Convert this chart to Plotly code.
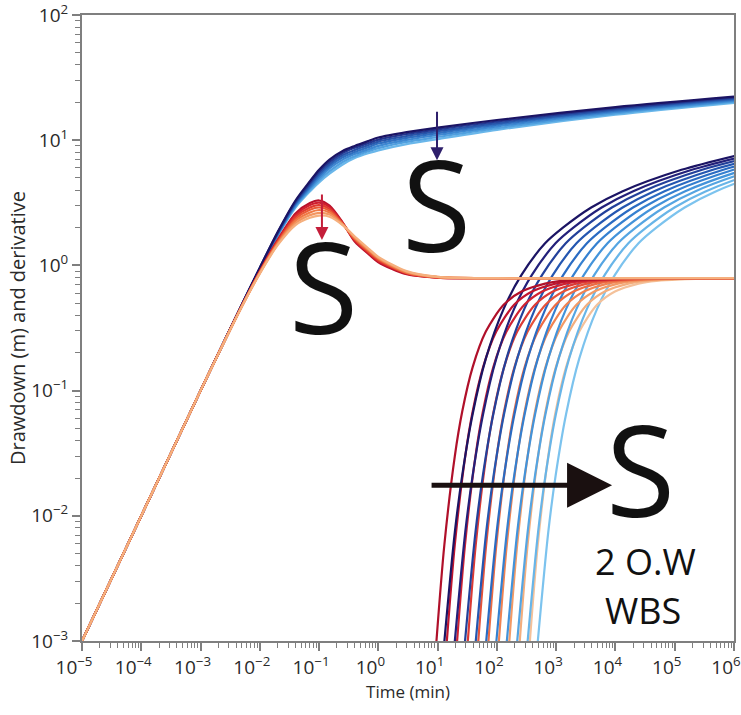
import plotly.graph_objects as go

# ---------------- Pumping well: shared time grid (min) ----------------
t_pw = [1e-5, 1e-3, 5e-3, 1e-2, 2e-2, 4e-2, 0.07, 0.1, 0.15, 0.25, 0.4, 0.7,
        1, 3, 10, 100, 1e4, 1e6]

# Pumping-well drawdown (m), one list per storativity, small S -> large S
pw_draw_1 = [0.001, 0.1, 0.49, 0.96, 1.85, 3.3, 4.7, 5.8, 7.0, 8.2, 9.0, 9.9, 10.5, 11.6, 12.6, 14.5, 18.4, 22.3]
pw_draw_2 = [0.001, 0.1, 0.49, 0.955, 1.83, 3.23, 4.55, 5.6, 6.7, 7.9, 8.7, 9.55, 10.1, 11.2, 12.2, 14.1, 18.0, 21.9]
pw_draw_3 = [0.001, 0.1, 0.485, 0.95, 1.8, 3.16, 4.4, 5.4, 6.45, 7.6, 8.35, 9.2, 9.75, 10.8, 11.8, 13.7, 17.6, 21.5]
pw_draw_4 = [0.001, 0.1, 0.485, 0.945, 1.78, 3.1, 4.27, 5.2, 6.2, 7.3, 8.05, 8.85, 9.4, 10.45, 11.4, 13.3, 17.2, 21.1]
pw_draw_5 = [0.001, 0.1, 0.483, 0.94, 1.76, 3.03, 4.15, 5.0, 5.95, 7.0, 7.75, 8.5, 9.0, 10.05, 11.0, 12.9, 16.8, 20.7]
pw_draw_6 = [0.001, 0.1, 0.48, 0.935, 1.74, 2.96, 4.02, 4.8, 5.65, 6.7, 7.45, 8.2, 8.65, 9.7, 10.6, 12.5, 16.4, 20.3]
pw_draw_7 = [0.001, 0.1, 0.48, 0.93, 1.72, 2.9, 3.9, 4.6, 5.4, 6.4, 7.2, 7.9, 8.3, 9.3, 10.2, 12.1, 16.0, 19.9]

# Pumping-well log-derivative (m)
pw_deriv_1 = [0.001, 0.1, 0.48, 0.9, 1.6, 2.6, 3.15, 3.3, 3.0, 2.2, 1.55, 1.22, 1.06, 0.85, 0.8, 0.79, 0.79, 0.79]
pw_deriv_2 = [0.001, 0.1, 0.478, 0.893, 1.575, 2.52, 3.03, 3.17, 2.92, 2.18, 1.58, 1.24, 1.08, 0.86, 0.8, 0.79, 0.79, 0.79]
pw_deriv_3 = [0.001, 0.1, 0.477, 0.887, 1.55, 2.44, 2.9, 3.03, 2.83, 2.16, 1.6, 1.26, 1.10, 0.87, 0.8, 0.79, 0.79, 0.79]
pw_deriv_4 = [0.001, 0.1, 0.475, 0.88, 1.525, 2.35, 2.78, 2.9, 2.74, 2.14, 1.63, 1.28, 1.12, 0.87, 0.805, 0.79, 0.79, 0.79]
pw_deriv_5 = [0.001, 0.1, 0.473, 0.873, 1.5, 2.27, 2.65, 2.77, 2.65, 2.13, 1.65, 1.31, 1.14, 0.88, 0.805, 0.79, 0.79, 0.79]
pw_deriv_6 = [0.001, 0.1, 0.472, 0.866, 1.475, 2.18, 2.52, 2.63, 2.55, 2.11, 1.68, 1.33, 1.15, 0.89, 0.81, 0.79, 0.79, 0.79]
pw_deriv_7 = [0.001, 0.1, 0.47, 0.86, 1.45, 2.1, 2.4, 2.5, 2.45, 2.1, 1.7, 1.35, 1.17, 0.9, 0.81, 0.79, 0.79, 0.79]

# ---------------- Observation wells ----------------
# Drawdown levels (m) and the times (min) at which each curve reaches them
ow_draw_vals = [0.001, 0.0074, 0.021, 0.065, 0.18, 0.45, 0.84, 1.5, 2.0, 2.9, 3.9, 5.8, 7.7]
ow_draw_t_1 = [13, 19.5, 26, 39, 65, 130, 260, 650, 1300, 3900, 13000, 130000, 1300000]
ow_draw_t_2 = [19.5, 29.25, 39, 58.5, 97.5, 195, 390, 975, 1950, 5850, 19500, 195000, 1950000]
ow_draw_t_3 = [29, 43.5, 58, 87, 145, 290, 580, 1450, 2900, 8700, 29000, 290000, 2900000]
ow_draw_t_4 = [44, 66, 88, 132, 220, 440, 880, 2200, 4400, 13200, 44000, 440000, 4400000]
ow_draw_t_5 = [66, 99, 132, 198, 330, 660, 1320, 3300, 6600, 19800, 66000, 660000, 6600000]
ow_draw_t_6 = [98, 147, 196, 294, 490, 980, 1960, 4900, 9800, 29400, 98000, 980000, 9800000]
ow_draw_t_7 = [147, 220.5, 294, 441, 735, 1470, 2940, 7350, 14700, 44100, 147000, 1470000, 14700000]
ow_draw_t_8 = [220, 330, 440, 660, 1100, 2200, 4400, 11000, 22000, 66000, 220000, 2200000, 22000000]
ow_draw_t_9 = [330, 495, 660, 990, 1650, 3300, 6600, 16500, 33000, 99000, 330000, 3300000, 33000000]
ow_draw_t_10 = [490, 735, 980, 1470, 2450, 4900, 9800, 24500, 49000, 147000, 490000, 4900000, 49000000]

# Derivative levels (m) and times (min)
ow_deriv_vals = [0.001, 0.0059, 0.030, 0.068, 0.154, 0.296, 0.484, 0.618, 0.716, 0.752, 0.786, 0.79]
ow_deriv_t_1 = [9.55, 13, 19.5, 26, 39, 65, 130, 260, 650, 1300, 13000, 1300000]
ow_deriv_t_2 = [14.3, 19.5, 29.25, 39, 58.5, 97.5, 195, 390, 975, 1950, 19500, 1950000]
ow_deriv_t_3 = [21.3, 29, 43.5, 58, 87, 145, 290, 580, 1450, 2900, 29000, 2900000]
ow_deriv_t_4 = [32.3, 44, 66, 88, 132, 220, 440, 880, 2200, 4400, 44000, 4400000]
ow_deriv_t_5 = [48.5, 66, 99, 132, 198, 330, 660, 1320, 3300, 6600, 66000, 6600000]
ow_deriv_t_6 = [72, 98, 147, 196, 294, 490, 980, 1960, 4900, 9800, 98000, 9800000]
ow_deriv_t_7 = [108, 147, 220.5, 294, 441, 735, 1470, 2940, 7350, 14700, 147000, 14700000]
ow_deriv_t_8 = [162, 220, 330, 440, 660, 1100, 2200, 4400, 11000, 22000, 220000, 22000000]
ow_deriv_t_9 = [243, 330, 495, 660, 990, 1650, 3300, 6600, 16500, 33000, 330000, 33000000]
ow_deriv_t_10 = [360, 490, 735, 980, 1470, 2450, 4900, 9800, 24500, 49000, 490000, 49000000]

# Axis ticks
x_tick_exp = [-5, -4, -3, -2, -1, 0, 1, 2, 3, 4, 5, 6]
y_tick_exp = [-3, -2, -1, 0, 1, 2]

# ---------------- Styling ----------------
pw_blue = ["#1b1464", "#22368f", "#2755aa", "#2f6fc0", "#3d88d2", "#50a0df", "#6ab7ea"]
pw_red = ["#b8102a", "#cf1f2f", "#e03a30", "#ea5a36", "#f07a45", "#f39660", "#f5b07e"]
ow_blue = ["#1b1464", "#23207a", "#23409a", "#2456b0", "#2a6bc2", "#3580d0", "#4393da",
           "#55a5e2", "#68b5e8", "#7cc3ee"]
ow_red = ["#b0102a", "#c0152e", "#cf2232", "#db3a35", "#e5533a", "#ec6c44", "#f08352",
          "#f29a66", "#f3ae7e", "#f4c19a"]

pw_draw = [pw_draw_1, pw_draw_2, pw_draw_3, pw_draw_4, pw_draw_5, pw_draw_6, pw_draw_7]
pw_deriv = [pw_deriv_1, pw_deriv_2, pw_deriv_3, pw_deriv_4, pw_deriv_5, pw_deriv_6, pw_deriv_7]
ow_draw_t = [ow_draw_t_1, ow_draw_t_2, ow_draw_t_3, ow_draw_t_4, ow_draw_t_5,
             ow_draw_t_6, ow_draw_t_7, ow_draw_t_8, ow_draw_t_9, ow_draw_t_10]
ow_deriv_t = [ow_deriv_t_1, ow_deriv_t_2, ow_deriv_t_3, ow_deriv_t_4, ow_deriv_t_5,
              ow_deriv_t_6, ow_deriv_t_7, ow_deriv_t_8, ow_deriv_t_9, ow_deriv_t_10]

fig = go.Figure()

# observation wells: drawdown and derivative pairs, light to dark
for i in reversed(range(len(ow_draw_t))):
    fig.add_trace(go.Scatter(x=ow_draw_t[i], y=ow_draw_vals, mode="lines",
                             line=dict(color=ow_blue[i], width=2.2, shape="spline", smoothing=0.8),
                             hoverinfo="skip", showlegend=False))
    fig.add_trace(go.Scatter(x=ow_deriv_t[i], y=ow_deriv_vals, mode="lines",
                             line=dict(color=ow_red[i], width=2.2, shape="spline", smoothing=0.8),
                             hoverinfo="skip", showlegend=False))

# pumping well drawdown
for i in reversed(range(len(pw_draw))):
    fig.add_trace(go.Scatter(x=t_pw, y=pw_draw[i], mode="lines",
                             line=dict(color=pw_blue[i], width=2.2, shape="spline", smoothing=0.8),
                             hoverinfo="skip", showlegend=False))

# pumping well derivative
for i in range(len(pw_deriv)):
    fig.add_trace(go.Scatter(x=t_pw, y=pw_deriv[i], mode="lines",
                             line=dict(color=pw_red[i], width=2.2, shape="spline", smoothing=0.8),
                             hoverinfo="skip", showlegend=False))

def sup_label(e):
    s = str(e).replace("-", "\u2212")
    return "10<sup>" + s + "</sup>"

minor_x = [m * 10.0 ** e for e in range(-5, 6) for m in range(2, 10)]
minor_y = [m * 10.0 ** e for e in range(-3, 2) for m in range(2, 10)]

axis_common = dict(
    type="log", showline=True, linecolor="#7f7f7f", linewidth=2, mirror=True,
    showgrid=False, zeroline=False, ticks="outside", ticklen=8, tickwidth=1.5,
    tickcolor="#7f7f7f", tickfont=dict(family="Open Sans", size=19, color="#2a2a2a"),
    ticklabeloverflow="allow", automargin=False,
)

fig.update_xaxes(
    **axis_common, range=[-5, 6], ticklabelshift=-8,
    tickvals=[10.0 ** e for e in x_tick_exp], ticktext=[sup_label(e) for e in x_tick_exp],
    minor=dict(tickvals=minor_x, ticks="outside", ticklen=5, tickcolor="#7f7f7f", tickwidth=1),
    title=dict(text="Time (min)", font=dict(family="Open Sans", size=17, color="#2a2a2a"), standoff=4),
)
fig.update_yaxes(
    **axis_common, range=[-3, 2],
    tickvals=[10.0 ** e for e in y_tick_exp], ticktext=[sup_label(e) for e in y_tick_exp],
    minor=dict(tickvals=minor_y, ticks="outside", ticklen=5, tickcolor="#7f7f7f", tickwidth=1),
    title=dict(text="Drawdown (m) and derivative", font=dict(family="Open Sans", size=20, color="#2a2a2a"), standoff=0),
)

big_s = dict(family="Open Sans", size=126, color="#111111")
annotations = [
    dict(x=0.543, y=0.699, text="S", font=big_s, height=100),
    dict(x=0.370, y=0.568, text="S", font=big_s, height=100),
    dict(x=0.857, y=0.276, text="S", font=big_s, height=100),
    dict(x=0.8635, y=0.127, text="2 O.W", font=dict(family="Open Sans", size=36, color="#111111")),
    dict(x=0.860, y=0.0495, text="WBS", font=dict(family="Open Sans", size=36, color="#111111")),
]
for a in annotations:
    a.update(xref="paper", yref="paper", showarrow=False, xanchor="center", yanchor="middle")

arrows = [
    dict(x=0.5445, y=0.768, ax=0, ay=-50, arrowcolor="#2e1f6b", arrowwidth=2, arrowsize=1.3),
    dict(x=0.368, y=0.6406, ax=0, ay=-47, arrowcolor="#c41e3a", arrowwidth=2, arrowsize=1.3),
    dict(x=0.813, y=0.249, ax=-182, ay=0, arrowcolor="#1a1010", arrowwidth=5, arrowsize=1.8),
]
for a in arrows:
    a.update(xref="paper", yref="paper", text="", showarrow=True, arrowhead=2, standoff=0)

fig.update_layout(
    width=741, height=715,
    margin=dict(l=82, r=7, t=15, b=74, autoexpand=False),
    paper_bgcolor="white", plot_bgcolor="white",
    annotations=annotations + arrows,
    showlegend=False,
)

fig.write_html("out.html")
